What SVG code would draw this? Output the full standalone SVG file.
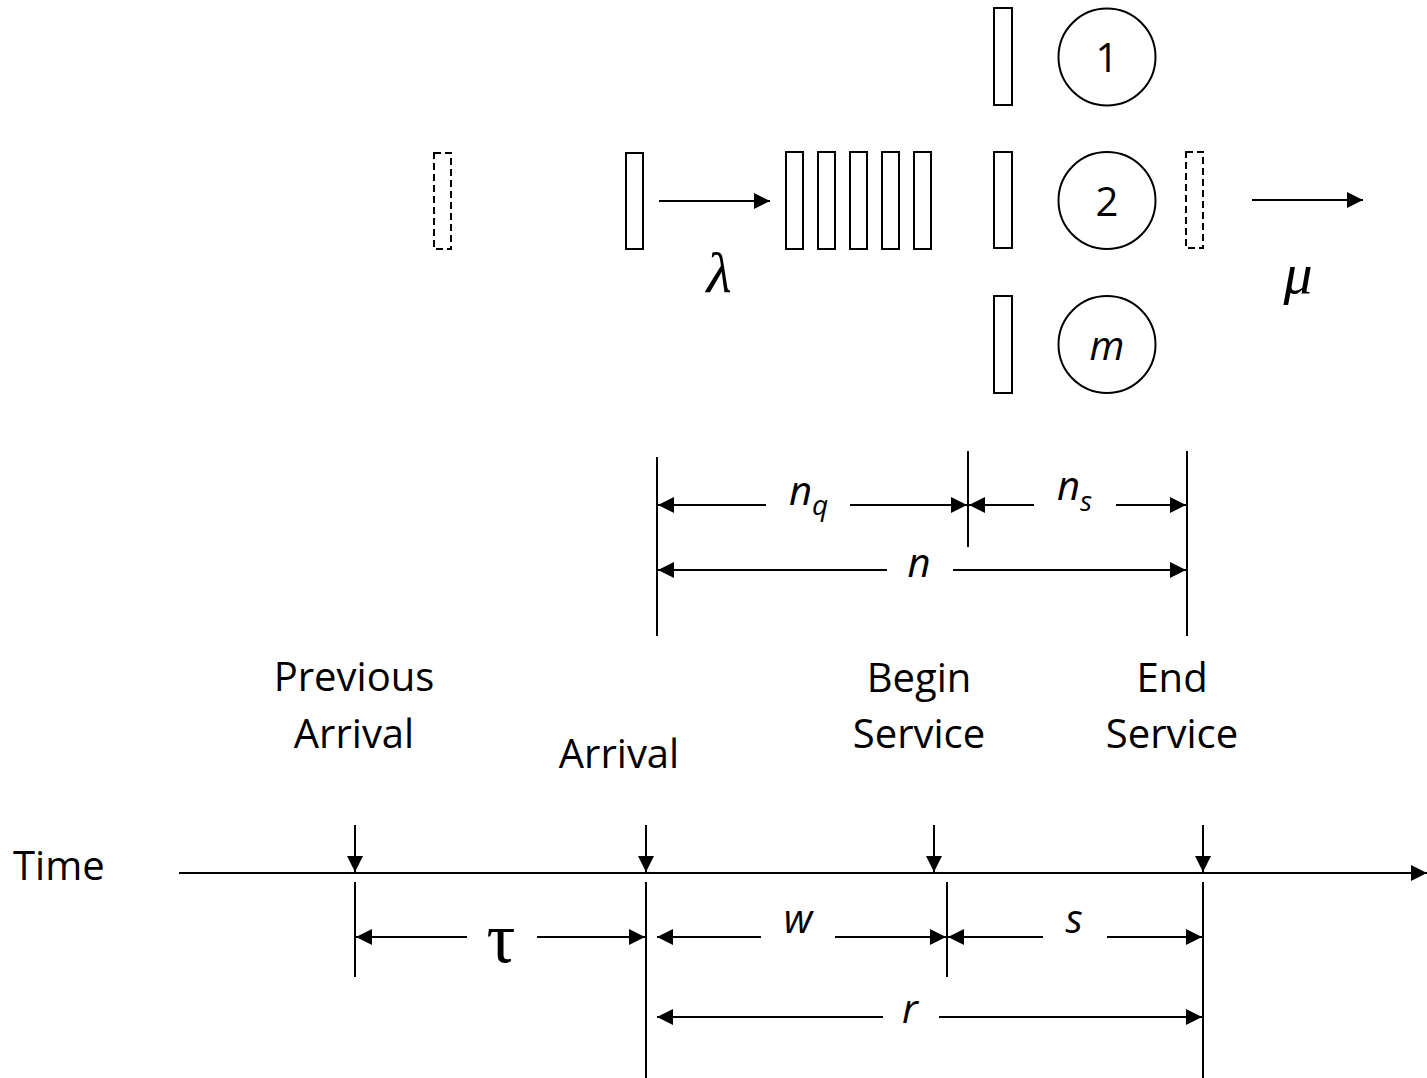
<svg xmlns="http://www.w3.org/2000/svg" width="1427" height="1078" viewBox="0 0 1427 1078">
<style>
.box{fill:#fff;stroke:#000;stroke-width:2}
.dash{fill:none;stroke:#000;stroke-width:2;stroke-dasharray:7 4}
.srv{fill:#fff;stroke:#000;stroke-width:2}
.ln{stroke:#000;stroke-width:2;fill:none}
.lbl{font-family:"Open Sans","Liberation Sans",sans-serif;font-size:40px;fill:#000;text-anchor:middle}
.lbls{font-family:"Open Sans","Liberation Sans",sans-serif;font-size:40px;fill:#000;text-anchor:start}
.it{font-family:"Open Sans","Liberation Sans",sans-serif;font-size:40px;font-style:italic;fill:#000}
.gr{font-family:"Liberation Serif","DejaVu Serif",serif;font-style:italic;fill:#000;text-anchor:middle}
.up{font-family:"Liberation Serif","DejaVu Serif",serif;font-style:normal;fill:#000;text-anchor:middle}
.ah{marker-end:url(#ah)}
</style>
<defs>
<marker id="ah" markerUnits="userSpaceOnUse" markerWidth="17" markerHeight="17" refX="16" refY="8" orient="auto">
<path d="M0,0 L16,8 L0,16 z" fill="#000"/>
</marker>
<marker id="as" markerUnits="userSpaceOnUse" markerWidth="17" markerHeight="17" refX="0" refY="8" orient="auto">
<path d="M16,0 L0,8 L16,16 z" fill="#000"/>
</marker>
</defs>
<rect width="1427" height="1078" fill="#fff"/>

<g id="prev-customer"><rect class="dash" x="434" y="153" width="17" height="96"/></g>
<g id="arriving-customer"><rect class="box" x="626" y="153" width="17" height="96"/></g>
<g id="queue">
<rect class="box" x="786" y="152" width="17" height="97"/>
<rect class="box" x="818" y="152" width="17" height="97"/>
<rect class="box" x="850" y="152" width="17" height="97"/>
<rect class="box" x="882" y="152" width="17" height="97"/>
<rect class="box" x="914" y="152" width="17" height="97"/>
</g>
<g id="server-1">
<rect class="box" x="994" y="8" width="18" height="97"/>
<circle class="srv" cx="1107" cy="57" r="48.5"/>
<text class="lbl" x="1107" y="72">1</text>
</g>
<g id="server-2">
<rect class="box" x="994" y="152" width="18" height="96"/>
<circle class="srv" cx="1107" cy="200.5" r="48.5"/>
<text class="lbl" x="1107" y="216">2</text>
</g>
<g id="server-m">
<rect class="box" x="994" y="296" width="18" height="97"/>
<circle class="srv" cx="1107" cy="344.5" r="48.5"/>
<text class="it" x="1107" y="360" text-anchor="middle">m</text>
</g>
<g id="departing-customer"><rect class="dash" x="1186" y="152" width="17" height="96"/></g>
<g id="lambda"><text class="gr" x="719" y="292" font-size="58">λ</text></g>
<g id="mu"><text class="gr" x="1298" y="293" font-size="58">μ</text></g>

<g id="connectors">
<line class="ln ah" x1="659" y1="201" x2="770" y2="201"/>
<line class="ln ah" x1="1252" y1="200" x2="1363" y2="200"/>

<line class="ln" x1="657" y1="457" x2="657" y2="636"/>
<line class="ln" x1="968" y1="451" x2="968" y2="547"/>
<line class="ln" x1="1187" y1="451" x2="1187" y2="636"/>
<line class="ln" x1="658" y1="505" x2="766" y2="505" marker-start="url(#as)"/>
<line class="ln" x1="850" y1="505" x2="967" y2="505" marker-end="url(#ah)"/>
<line class="ln" x1="969" y1="505" x2="1034" y2="505" marker-start="url(#as)"/>
<line class="ln" x1="1116" y1="505" x2="1186" y2="505" marker-end="url(#ah)"/>
<line class="ln" x1="658" y1="570" x2="887" y2="570" marker-start="url(#as)"/>
<line class="ln" x1="953" y1="570" x2="1186" y2="570" marker-end="url(#ah)"/>

<line class="ln ah" x1="179" y1="873" x2="1427" y2="873"/>
<line class="ln ah" x1="355" y1="825" x2="355" y2="872"/>
<line class="ln ah" x1="646" y1="825" x2="646" y2="872"/>
<line class="ln ah" x1="934" y1="825" x2="934" y2="872"/>
<line class="ln ah" x1="1203" y1="825" x2="1203" y2="872"/>

<line class="ln" x1="355" y1="882" x2="355" y2="977"/>
<line class="ln" x1="646" y1="882" x2="646" y2="1078"/>
<line class="ln" x1="947" y1="882" x2="947" y2="977"/>
<line class="ln" x1="1203" y1="882" x2="1203" y2="1078"/>
<line class="ln" x1="356" y1="937" x2="467" y2="937" marker-start="url(#as)"/>
<line class="ln" x1="537" y1="937" x2="645" y2="937" marker-end="url(#ah)"/>
<line class="ln" x1="657" y1="937" x2="761" y2="937" marker-start="url(#as)"/>
<line class="ln" x1="835" y1="937" x2="946" y2="937" marker-end="url(#ah)"/>
<line class="ln" x1="948" y1="937" x2="1043" y2="937" marker-start="url(#as)"/>
<line class="ln" x1="1107" y1="937" x2="1202" y2="937" marker-end="url(#ah)"/>
<line class="ln" x1="657" y1="1017" x2="883" y2="1017" marker-start="url(#as)"/>
<line class="ln" x1="939" y1="1017" x2="1202" y2="1017" marker-end="url(#ah)"/>
</g>

<g id="dim-labels">
<text class="it" x="789" y="505">n<tspan font-size="28" dy="10">q</tspan></text>
<text class="it" x="1057" y="500">n<tspan font-size="28" dy="11">s</tspan></text>
<text class="it" x="919" y="577" text-anchor="middle">n</text>
<text class="up" x="501" y="962" font-size="72">τ</text>
<text class="it" x="798" y="933" text-anchor="middle">w</text>
<text class="it" x="1074" y="933" text-anchor="middle">s</text>
<text class="it" x="910" y="1023" text-anchor="middle">r</text>
</g>

<g id="time-label"><text class="lbls" x="13" y="880">Time</text></g>
<g id="label-previous-arrival">
<text class="lbl" x="354" y="691">Previous</text>
<text class="lbl" x="354" y="748">Arrival</text>
</g>
<g id="label-arrival"><text class="lbl" x="619" y="768">Arrival</text></g>
<g id="label-begin-service">
<text class="lbl" x="919" y="692">Begin</text>
<text class="lbl" x="919" y="748">Service</text>
</g>
<g id="label-end-service">
<text class="lbl" x="1172" y="692">End</text>
<text class="lbl" x="1172" y="748">Service</text>
</g>
</svg>
